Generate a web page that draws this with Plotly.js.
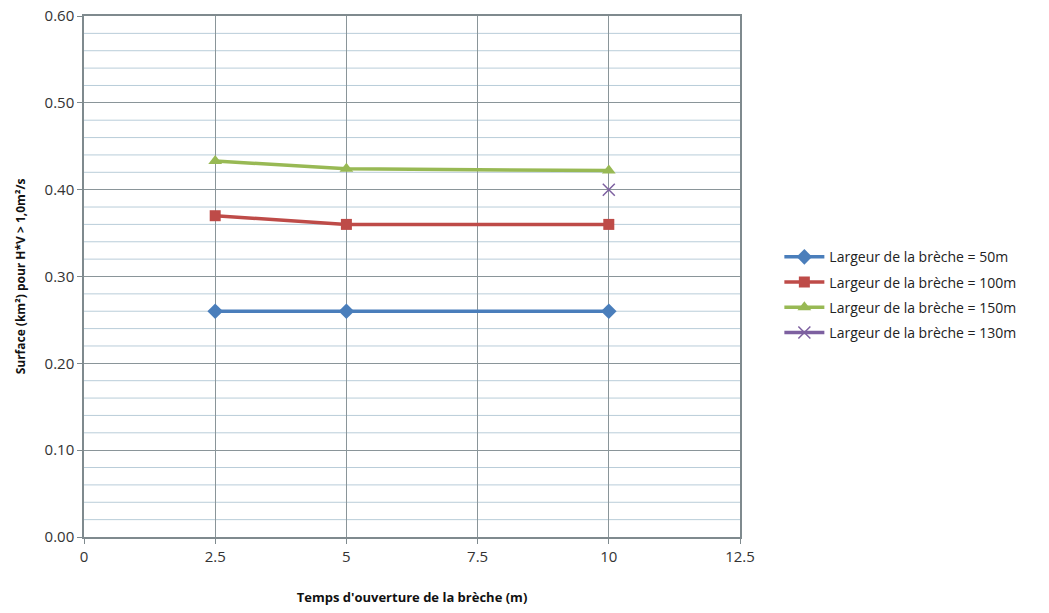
<!DOCTYPE html>
<html><head><meta charset="utf-8">
<script src="https://cdn.plot.ly/plotly-3.0.1.min.js"></script>
<style>body{margin:0;background:#fff}</style>
</head><body>
<div id="chart" style="width:1049px;height:613px"></div>
<script>
const xValues = [2.5, 5, 10];
const s50 = [0.26, 0.26, 0.26];
const s100 = [0.37, 0.36, 0.36];
const s150 = [0.433, 0.424, 0.422];
const x130 = [10];
const s130 = [0.40];
const names = ['Largeur de la brèche = 50m','Largeur de la brèche = 100m','Largeur de la brèche = 150m','Largeur de la brèche = 130m'];
const xTicks = [0, 2.5, 5, 7.5, 10, 12.5];
const yTicks = [0, 0.1, 0.2, 0.3, 0.4, 0.5, 0.6];

const font = 'Open Sans, Liberation Sans, sans-serif';
const traces = [
  {x:xValues, y:s50, name:names[0], legendgroup:'a', mode:'lines+markers', line:{color:'#4A7EBB', width:3.5}, marker:{symbol:'diamond', size:12, color:'#4A7EBB'}},
  {x:xValues, y:s100, name:names[1], legendgroup:'b', mode:'lines+markers', line:{color:'#BE4B48', width:3.5}, marker:{symbol:'square', size:11, color:'#BE4B48'}},
  {x:xValues, y:s150, name:names[2], legendgroup:'c', mode:'lines+markers', line:{color:'#98B954', width:3.5}, marker:{symbol:'triangle-up', size:12, color:'#98B954'}},
  {x:x130, y:s130, name:names[3], legendgroup:'d', mode:'lines+markers', line:{color:'#7D60A0', width:3.5}, marker:{symbol:'x-thin', size:12, color:'#7D60A0', line:{color:'#7D60A0', width:1.5}}}
];
const shapes = [];
for (let v = 0.02; v < 0.6; v += 0.02) {
  const r = Math.round(v*100);
  if (r % 10 === 0) continue;
  shapes.push({type:'line', xref:'paper', yref:'y', x0:0, x1:1, y0:v, y1:v, line:{color:'#B9CDD9', width:1}, layer:'below'});
}
const layout = {
  width:1049, height:613,
  margin:{l:84, r:309, t:16, b:76},
  paper_bgcolor:'#fff', plot_bgcolor:'#fff',
  font:{family:font, size:14, color:'#333'},
  showlegend:true,
  legend:{x:1.06, y:0.465, xanchor:'left', yanchor:'middle', font:{family:font, size:14, color:'#222'}, tracegroupgap:4, itemwidth:40},
  xaxis:{range:[0,12.5], tickvals:xTicks, ticktext:xTicks.map(String), tickfont:{family:font, size:15, color:'#333'}, showgrid:true, gridcolor:'#8A9599', gridwidth:1,
    showline:true, linecolor:'#7F8A8E', linewidth:1.5, mirror:true, ticks:'outside', ticklen:5, tickcolor:'#7F8A8E', zeroline:false,
    title:{text:"<b>Temps d'ouverture de la brèche (m)</b>", font:{family:font, size:13, color:'#111'}, standoff:28}},
  yaxis:{range:[0,0.6], tickvals:yTicks, ticktext:yTicks.map(v=>v.toFixed(2)), tickfont:{family:font, size:15, color:'#333'}, showgrid:true, gridcolor:'#8A9599', gridwidth:1,
    showline:true, linecolor:'#7F8A8E', linewidth:1.5, mirror:true, ticks:'outside', ticklen:5, tickcolor:'#7F8A8E', zeroline:false,
    title:{text:'<b>Surface (km²) pour H*V > 1,0m²/s</b>', font:{family:font, size:12, color:'#111'}, standoff:16}},
  shapes:shapes
};
Plotly.newPlot('chart', traces, layout, {displayModeBar:false});
</script>
</body></html>
